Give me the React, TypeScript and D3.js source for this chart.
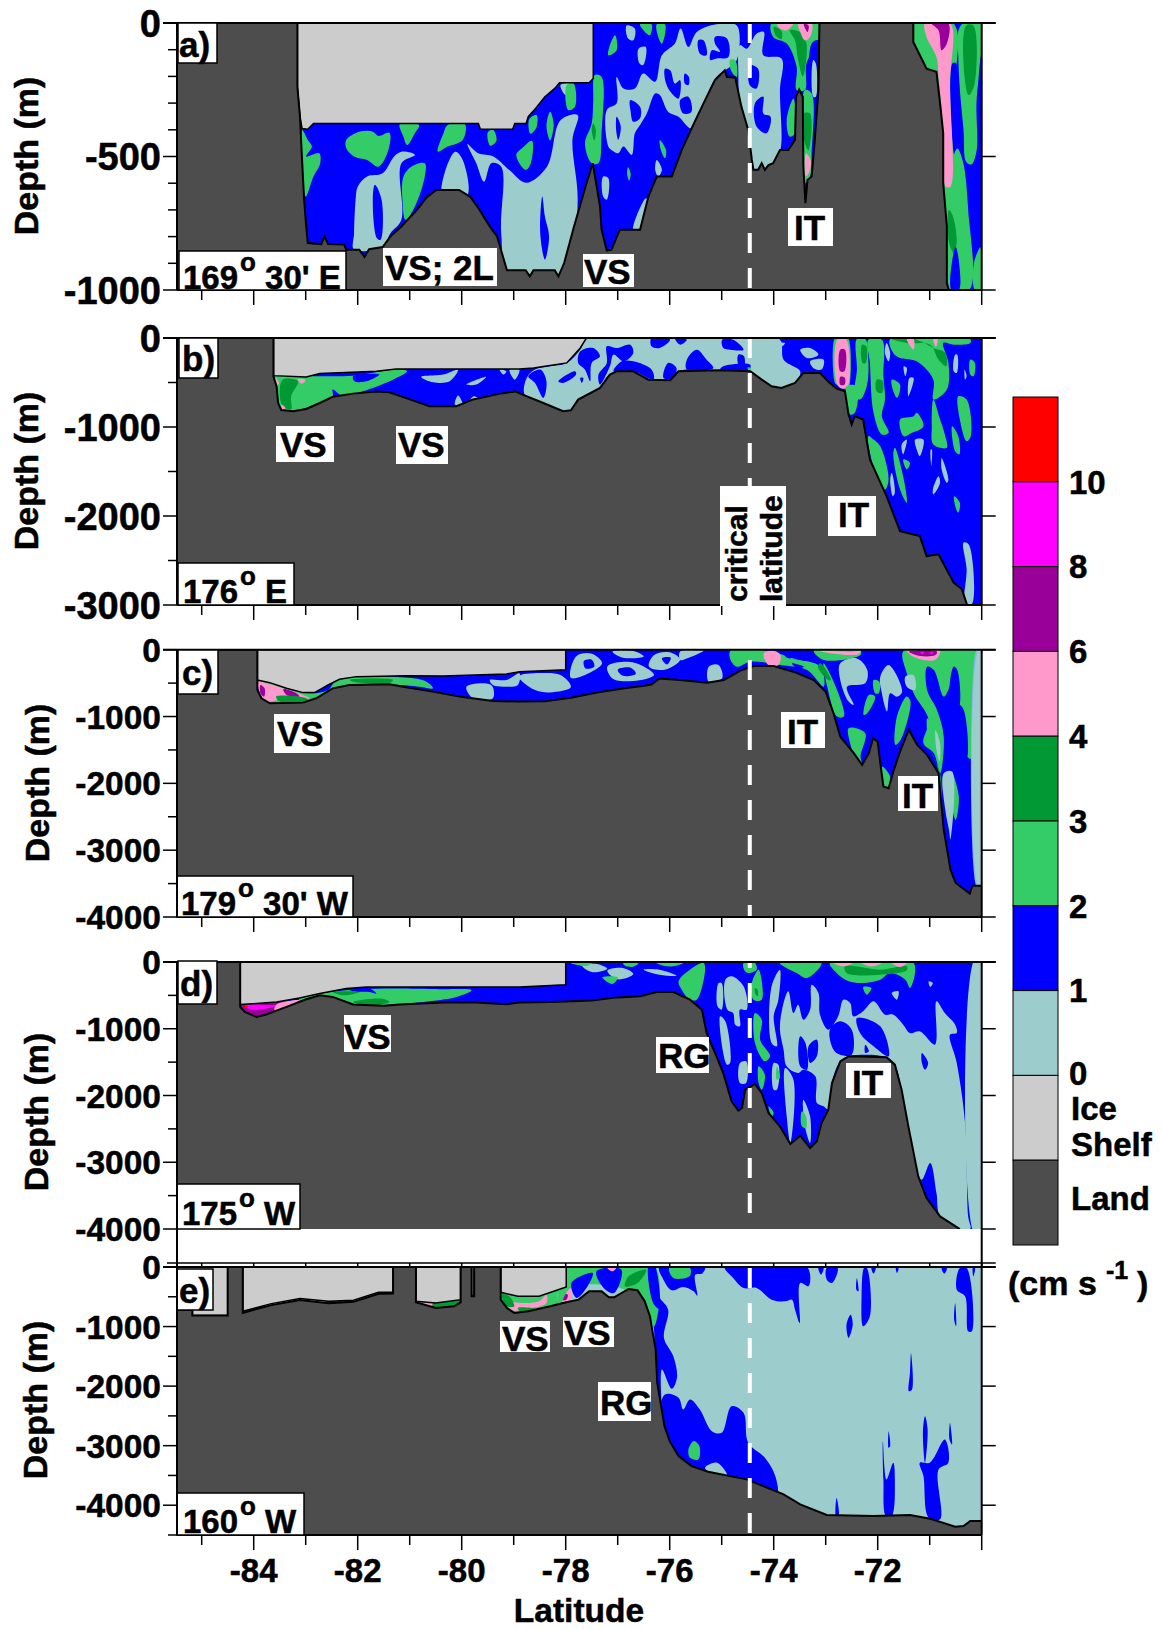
import React from "react";
import * as d3 from "d3";

const WIDTH = 1162, HEIGHT = 1630;
const COLORS: Record<string, string> = { t: "#9CCCCC", b: "#0000FF", g: "#33CC66", d: "#009933", p: "#FF99CC", u: "#990099", m: "#FF00FF", r: "#FF0000", pale: "#8FB4E8" };
const LEGEND_COLORS = ["#FF0000", "#FF00FF", "#990099", "#FF99CC", "#009933", "#33CC66", "#0000FF", "#9CCCCC", "#CCCCCC", "#4D4D4D"];
const LEGEND_NUMBERS = ["10", "8", "6", "4", "3", "2", "1", "0"];
const LAT_LABELS = [-84, -82, -80, -78, -76, -74, -72];
const LAT_TICKS = d3.range(-85, -69);
const CRITICAL_LAT = -74.46;

// bottom profiles, flat [lat, depth, ...]
const bottomA = [-85.47,0,-83.16,0,-83.16,239,-83.11,351,-83.07,513,-83.03,662,-82.99,762,-82.96,824,-82.7,828,-82.64,799,-82.57,828,-82.26,830,-82.22,849,-81.97,849,-81.87,876,-81.78,847,-81.52,839,-81.37,799,-81.16,762,-81.01,731,-80.86,700,-80.67,652,-80.49,625,-80.05,625,-79.83,652,-79.68,693,-79.46,762,-79.32,799,-79.13,926,-78.77,926,-78.69,949,-78.62,926,-78.21,926,-78.14,949,-78.03,899,-77.84,762,-77.62,613,-77.48,525,-77.34,687,-77.31,774,-77.21,852,-77.12,849,-76.96,774,-76.57,774,-76.41,650,-76.25,575,-75.96,575,-75.77,476,-75.58,395,-75.35,301,-75.13,214,-74.94,177,-74.9,202,-74.74,204,-74.62,314,-74.49,401,-74.42,513,-74.39,550,-74.3,550,-74.23,525,-74.17,550,-74.1,532,-74.01,525,-73.88,476,-73.72,476,-73.59,438,-73.57,276,-73.51,249,-73.44,276,-73.43,538,-73.39,675,-73.35,588,-73.27,575,-73.21,438,-73.14,251,-73.12,0,-71.315,0,-71.315,71,-71.06,171,-70.87,183,-70.8,301,-70.74,413,-70.74,600,-70.67,762,-70.67,974,-70.63,1000];
const bottomB = [-85.47,0,-83.62,0,-83.62,430,-83.56,545,-83.53,730,-83.47,810,-83.24,823,-82.99,797,-82.73,730,-82.48,660,-82.09,625,-81.64,600,-81.39,610,-81,690,-80.62,767,-80.1,767,-79.78,690,-79.26,625,-78.97,600,-78.78,647,-78.43,730,-78.05,823,-77.9,812,-77.76,692,-77.34,561,-77.15,411,-77.02,374,-76.7,374,-76.41,468,-75.99,475,-75.83,374,-75.03,363,-74.45,374,-74.23,468,-74.04,542,-73.85,561,-73.59,505,-73.43,393,-73.11,393,-72.92,505,-72.79,568,-72.63,598,-72.56,860,-72.5,972,-72.44,879,-72.28,916,-72.15,1365,-71.83,1777,-71.57,2169,-71.19,2225,-71.06,2450,-70.83,2431,-70.54,2749,-70.38,2824,-70.28,3000];
const bottomC = [-85.47,0,-83.93,0,-83.93,603,-83.85,727,-83.69,802,-83.05,792,-82.8,727,-82.48,578,-82.16,528,-81.39,518,-81.07,563,-80.56,627,-80.04,702,-79.4,767,-78.89,777,-78.4,770,-77.9,720,-77.4,640,-76.9,580,-76.5,540,-76.35,520,-76.2,430,-75.8,453,-75.28,493,-74.96,453,-74.64,314,-74.39,244,-74,244,-73.62,329,-73.23,453,-73,628,-72.85,951,-72.72,1300,-72.59,1424,-72.46,1549,-72.3,1723,-72.17,1549,-72.09,1325,-72,1375,-71.95,1698,-71.89,2047,-71.79,2072,-71.69,1798,-71.56,1499,-71.4,1200,-71.24,1424,-71.05,1574,-70.83,1848,-70.73,2694,-70.6,3292,-70.5,3491,-70.23,3650,-70.18,3531,-70,3531];
const bottomD = [-85.47,0,-84.26,0,-84.26,672,-84.17,747,-83.95,822,-83.76,787,-83.37,672,-82.99,558,-82.73,498,-82.48,523,-82.09,637,-81.5,657,-81.19,637,-80.36,608,-79.72,608,-79.14,632,-78.89,608,-78.3,600,-78,590,-77.5,575,-77,530,-76.57,514,-76.25,449,-75.93,449,-75.61,564,-75.38,714,-75.29,1064,-75.1,1413,-74.97,1663,-74.81,2087,-74.68,2227,-74.61,2187,-74.55,1913,-74.36,1828,-74.23,1963,-74.1,2262,-73.88,2462,-73.68,2727,-73.49,2602,-73.3,2787,-73.17,2687,-73.08,2412,-72.95,2212,-72.88,1813,-72.72,1488,-72.56,1413,-71.83,1428,-71.67,1538,-71.54,1913,-71.41,2462,-71.22,3211,-71.06,3536,-70.8,3811,-70.42,4000];
const bottomE = [-85.47,720,-85.18,720,-85.18,816,-84.5,816,-84.5,0,-84.21,0,-84.21,770,-83.66,640,-83.11,555,-82.56,610,-82.08,585,-81.6,450,-81.32,445,-81.32,0,-80.88,0,-80.88,590,-80.5,688,-80.15,660,-80.02,593,-80.02,0,-79.81,0,-79.81,492,-79.76,492,-79.76,0,-79.25,0,-79.25,548,-79.13,688,-78.99,771,-78.72,743,-78.3,660,-77.99,593,-77.75,548,-77.55,408,-77.31,408,-77.17,509,-77.07,509,-76.79,369,-76.62,391,-76.48,576,-76.38,827,-76.27,1386,-76.24,1945,-76.1,2672,-76,2924,-75.83,3175,-75.58,3343,-75.26,3438,-74.52,3566,-73.81,3818,-73.49,3986,-72.98,4165,-72.08,4181,-71.38,4165,-70.99,4226,-70.51,4360,-70.35,4350,-70.22,4265,-70,4265];

// ice shelves
const iceA = [[-83.16,0,-77.47,0,-77.47,208,-77.55,224,-78.12,224,-78.21,245,-78.4,276,-78.58,320,-78.72,351,-78.76,376,-78.98,376,-79.02,398,-79.64,398,-79.68,376,-82.85,376,-82.96,398,-83.07,395,-83.11,351,-83.16,239]];
const iceB = [[-83.62,0,-77.6,0,-77.72,112,-77.98,280,-78.4,318,-78.62,337,-78.89,348,-81.26,348,-81.64,374,-82.73,400,-82.99,438,-83.62,423]];
const iceC = [[-83.93,0,-78,0,-78,300,-78.89,329,-79.14,364,-80.36,393,-81.07,388,-82.03,403,-82.35,443,-82.57,528,-82.83,642,-83.05,642,-83.37,578,-83.69,493,-83.93,453]];
const iceD = [[-84.26,0,-78,0,-78,340,-78.89,374,-81.83,374,-82.22,398,-82.73,473,-83.12,538,-83.56,598,-83.95,622,-84.26,637]];
const iceE = [
  [-85.47,0,-84.5,0,-84.5,816,-85.18,816,-85.18,720,-85.47,720],
  [-84.21,0,-81.32,0,-81.32,425,-81.6,425,-82.08,559,-82.56,576,-83.11,531,-83.66,615,-84.21,743],
  [-80.88,0,-80.02,0,-80.02,548,-80.5,604,-80.88,576],
  [-79.81,0,-79.76,0,-79.76,480,-79.81,480],
  [-79.25,0,-77.99,0,-77.99,335,-78.51,492,-78.92,492,-79.25,425],
];

type Blob = [string, number[]];
const blobsA: Blob[] = [
  ["t",[-82,613,-81.82,575,-81.52,563,-81.3,500,-81.16,482,-80.9,494,-81.16,525,-81.16,737,-81.37,787,-81.52,837,-82.07,849,-82.07,787,-82.04,662]],
  ["t",[-80.12,482,-79.98,513,-79.9,650,-80.36,650,-80.31,550]],
  ["t",[-79.89,453,-79.68,488,-79.39,500,-79.09,550,-78.76,598,-78.36,538,-78.1,364,-77.77,345,-77.87,438,-77.77,662,-77.92,911,-78.21,949,-79.09,949,-79.24,787,-79.24,538,-79.43,525,-79.57,594,-79.72,525]],
  ["t",[-77.02,202,-76.89,245,-76.67,245,-76.51,189,-76.28,220,-76.15,121,-75.9,77,-75.79,21,-75.64,90,-75.48,34,-75.1,5,-74.71,9,-74.71,139,-74.84,164,-75.1,202,-75.35,301,-75.58,395,-75.83,351,-76.03,332,-76.19,270,-76.28,264,-76.44,339,-76.57,382,-76.67,413,-76.73,494,-76.89,463,-76.99,488,-77.12,476,-77.18,463,-77.21,326,-77.02,301]],
  ["t",[-74.65,83,-74.52,96,-74.33,40,-74.19,34,-74.2,121,-73.85,133,-73.88,251,-73.87,476,-74.01,532,-74.26,550,-74.42,550,-74.52,401,-74.65,301,-74.68,189]],
  ["t",[-76.83,9,-76.67,21,-76.7,65,-76.8,58]],
  ["t",[-76.6,96,-76.46,90,-76.51,158,-76.58,152]],
  ["t",[-77.28,575,-77.18,581,-77.21,662,-77.28,650]],
  ["t",[-76.25,513,-76.15,550,-76.22,575,-76.28,550]],
  ["t",[-76.7,774,-76.46,656,-76.43,662,-76.57,774]],
  ["t",[-78.1,232,-77.9,227,-78,270]],
  ["b",[-81.67,606,-81.54,662,-81.56,812,-81.63,806,-81.71,662]],
  ["b",[-78.45,650,-78.4,725,-78.32,799,-78.4,886,-78.49,787]],
  ["b",[-76.09,171,-75.99,177,-75.9,227,-75.8,214,-75.83,283,-75.96,264,-76.07,227]],
  ["b",[-75.71,189,-75.63,202,-75.64,233,-75.71,227]],
  ["b",[-75.8,289,-75.64,276,-75.58,332,-75.74,339]],
  ["b",[-75.45,65,-75.35,65,-75.29,121,-75.42,115]],
  ["b",[-75.13,52,-74.9,58,-74.87,127,-75.1,133,-75.22,139,-75.19,102,-75.03,108,-75.13,77]],
  ["b",[-76.76,289,-76.57,314,-76.57,357,-76.7,370,-76.75,332]],
  ["b",[-77.02,351,-76.94,388,-76.99,438,-77.03,401]],
  ["b",[-74.46,158,-74.3,171,-74.33,245,-74.46,233]],
  ["b",[-74.36,301,-74.2,276,-74.2,339,-74.06,351,-74.14,413,-74.33,388]],
  ["g",[-83.07,401,-82.96,438,-82.88,463,-82.99,500,-82.74,488,-82.72,525,-82.85,575,-83,650,-83.06,538]],
  ["g",[-82.22,438,-81.97,407,-81.71,407,-81.6,423,-81.39,411,-81.41,476,-81.6,538,-81.82,513,-82.07,500,-82.22,469]],
  ["g",[-81.19,378,-80.82,382,-80.9,413,-81.05,457,-81.12,426]],
  ["g",[-80.27,382,-79.94,378,-79.98,438,-80.27,463,-80.46,482,-80.35,413]],
  ["g",[-80.97,538,-80.71,525,-80.71,575,-80.9,687,-81.08,737,-81.14,662,-81.12,575]],
  ["g",[-79.5,410,-79.4,400,-79.33,440,-79.45,460]],
  ["g",[-78.65,441,-78.67,525,-78.77,550,-78.95,494,-78.84,469]],
  ["g",[-78.7,360,-78.56,345,-78.56,390,-78.68,415]],
  ["g",[-78.3,332,-78.23,380,-78.3,440,-78.37,385]],
  ["g",[-77.44,195,-77.31,202,-77.31,413,-77.37,525,-77.5,525,-77.63,451,-77.5,376,-77.47,289]],
  ["g",[-77.98,233,-77.85,227,-77.82,314,-77.95,326]],
  ["d",[-77.47,376,-77.42,400,-77.45,440,-77.5,400]],
  ["g",[-77.05,46,-77.02,102,-77.18,121,-77.15,83]],
  ["g",[-76.57,5,-76.35,5,-76.38,46,-76.44,40]],
  ["g",[-76.25,5,-76.09,5,-76.15,77,-76.22,52]],
  ["g",[-74.84,139,-74.74,139,-74.71,202,-74.81,183]],
  ["g",[-76.19,438,-76.07,476,-76.09,507,-76.17,476]],
  ["g",[-76.8,540,-76.75,565,-76.78,590,-76.82,565]],
  ["g",[-73.62,283,-73.59,413,-73.69,426,-73.75,364]],
  ["g",[-74.04,0,-73.14,0,-73.14,65,-73.37,152,-73.4,251,-73.56,251,-73.56,164,-73.75,77,-74.01,52]],
  ["d",[-73.69,27,-73.49,34,-73.37,77,-73.44,201,-73.53,139,-73.59,65]],
  ["d",[-74,15,-73.85,30,-73.85,60,-73.95,50]],
  ["p",[-73.94,0,-73.62,0,-73.75,27,-73.88,21]],
  ["p",[-73.53,0,-73.27,0,-73.3,52,-73.4,65,-73.49,34]],
  ["u",[-73.42,5,-73.33,9,-73.35,34]],
  ["b",[-73.27,77,-73.14,65,-73.14,251,-73.21,438,-73.27,488]],
  ["t",[-73.24,139,-73.19,152,-73.19,276,-73.24,276]],
  ["g",[-73.4,251,-73.27,264,-73.27,488,-73.3,575,-73.4,600,-73.43,476]],
  ["d",[-73.42,339,-73.3,339,-73.33,476,-73.4,451]],
  ["p",[-73.38,488,-73.29,513,-73.31,556,-73.38,575]],
  ["g",[-71.4,0,-70.55,0,-70.55,300,-70.6,1000,-70.75,1000,-71,200,-71.4,100]],
  ["g",[-70.35,0,-70.02,0,-70.05,180,-70.1,300,-70.1,480,-70.2,530,-70.3,520,-70.35,400,-70.42,250,-70.45,130,-70.45,30]],
  ["d",[-70.3,10,-70.16,10,-70.14,230,-70.25,270,-70.33,200]],
  ["b",[-70.56,150,-70.5,150,-70.48,400,-70.52,500,-70.58,400]],
  ["g",[-70.6,550,-70.47,470,-70.36,520,-70.26,700,-70.24,1000,-70.66,1000,-70.66,700]],
  ["d",[-70.63,700,-70.56,720,-70.48,820,-70.54,860,-70.63,820]],
  ["b",[-70.55,870,-70.5,840,-70.44,890,-70.44,1000,-70.58,1000]],
  ["g",[-70.15,900,-70.02,840,-70.02,1000,-70.13,1000]],
  ["p",[-71.09,0,-70.61,0,-70.61,227,-70.6,613,-70.69,613,-70.74,413,-70.83,202,-70.87,127,-71.06,52]],
  ["u",[-70.96,2,-70.64,2,-70.67,77,-70.77,102,-70.83,27]],
];
const blobsB: Blob[] = [
  ["g",[-83.6,430,-82.76,430,-82.09,423,-81.26,355,-81.05,374,-81.32,468,-81.9,598,-82.28,655,-82.48,580,-82.48,673,-82.73,722,-82.99,785,-83.37,823,-83.5,767]],
  ["b",[-82.09,430,-81.58,411,-81.83,486,-82.06,486]],
  ["d",[-83.44,468,-83.15,486,-83.28,655,-83.28,800,-83.44,767,-83.5,617]],
  ["p",[-83.15,460,-83,475,-83.08,512]],
  ["p",[-83.47,748,-83.39,785,-83.44,812]],
  ["p",[-83.6,437,-83.51,505,-83.58,542]],
  ["t",[-80.78,437,-80.36,411,-80.07,355,-80.23,486,-80.55,497]],
  ["t",[-79.91,523,-79.53,437,-79.72,523]],
  ["t",[-80.13,748,-80.07,647,-79.98,759]],
  ["t",[-79.84,711,-79.77,655,-79.65,692]],
  ["t",[-79.27,355,-79.14,374,-79.2,411]],
  ["t",[-79.08,355,-78.89,355,-78.98,468]],
  ["t",[-78.75,449,-78.59,355,-78.3,318,-77.98,280,-77.72,131,-77.58,0,-74.49,0,-74.26,168,-74.26,449,-75.03,363,-75.83,374,-75.99,475,-76.41,468,-77.15,411,-77.34,561,-77.9,812,-78.05,823,-78.78,647]],
  ["t",[-74.45,0,-73.88,19,-73.81,243,-73.49,374,-73.59,505,-73.85,561,-74.1,524,-74.45,355]],
  ["b",[-78.72,430,-78.49,355,-78.37,486,-78.43,673,-78.59,505]],
  ["b",[-78.14,486,-77.82,374,-77.8,411,-78.05,505]],
  ["b",[-77.72,449,-77.66,449,-77.69,505]],
  ["b",[-77.72,150,-77.47,112,-77.34,206,-77.5,280,-77.53,486,-77.63,355,-77.76,280]],
  ["b",[-77.21,94,-77.02,112,-76.76,75,-76.7,168,-76.89,262,-77.08,187,-77.15,318,-77.34,524,-77.37,411,-77.21,280]],
  ["b",[-76.7,262,-76.35,355,-76.31,468,-76.7,374,-77.08,374,-76.92,262]],
  ["b",[-76.35,0,-75.99,19,-76.19,112,-76.35,94]],
  ["b",[-75.9,0,-75.67,19,-75.8,75]],
  ["b",[-76.12,449,-76.03,280,-75.87,337,-75.93,449]],
  ["b",[-75.67,243,-75.48,131,-75.29,243,-75.16,337,-75.67,355]],
  ["b",[-74.99,19,-74.78,19,-74.58,131,-74.84,131,-74.97,112]],
  ["b",[-74.68,187,-74.57,206,-74.58,355,-74.68,300]],
  ["b",[-74.97,318,-74.45,300,-74.49,374,-75.03,355]],
  ["t",[-73.49,131,-73.3,112,-73.14,187,-73.36,224]],
  ["t",[-73.3,262,-73.04,243,-73.08,355,-73.24,337]],
  ["t",[-73.94,56,-73.78,56,-73.85,94]],
  ["g",[-74.5,330,-74.44,340,-74.47,385]],
  ["g",[-72.83,11,-72.77,11,-72.77,524,-72.82,505]],
  ["g",[-72.61,11,-72.56,11,-72.56,560,-72.61,560]],
  ["p",[-72.77,11,-72.61,11,-72.59,561,-72.76,542]],
  ["u",[-72.72,131,-72.63,131,-72.64,374,-72.72,374]],
  ["u",[-72.72,437,-72.63,449,-72.64,524,-72.72,524]],
  ["g",[-72.4,11,-72.24,11,-72.18,243,-72.21,542,-72.34,692,-72.44,655,-72.4,355]],
  ["g",[-72.6,542,-72.4,542,-72.44,841,-72.53,860]],
  ["g",[-72.18,19,-71.92,19,-71.89,430,-71.86,692,-71.92,879,-71.79,1066,-71.92,1085,-72.08,841,-72.15,281]],
  ["d",[-72.02,468,-71.9,486,-71.92,617,-72.02,598]],
  ["d",[-72.3,75,-72.22,94,-72.23,280,-72.29,280]],
  ["g",[-72.18,1103,-72.08,1141,-71.95,1216,-71.79,1590,-71.86,1702,-72.08,1440]],
  ["g",[-71.67,1234,-71.51,1552,-71.44,1851,-71.57,1702,-71.7,1309]],
  ["g",[-71.51,1365,-71.38,1403,-71.44,1477]],
  ["g",[-71.76,11,-70.22,11,-70.22,56,-70.54,75,-70.74,56,-70.64,280,-70.67,580,-70.93,692,-70.93,468,-71.25,262,-71.57,224,-71.7,168]],
  ["g",[-70.93,692,-70.8,916,-70.7,1103,-70.67,1234,-70.93,1197,-70.96,991]],
  ["g",[-71.57,916,-71.31,879,-71.25,841,-71.12,991,-71.34,1066,-71.5,1103]],
  ["g",[-70.45,655,-70.29,692,-70.21,1103,-70.29,1160,-70.42,916]],
  ["g",[-70.57,991,-70.45,1103,-70.43,1309,-70.51,1272]],
  ["g",[-70.22,243,-70.13,280,-70.16,430,-70.22,411]],
  ["g",[-71.73,468,-71.57,524,-71.63,673,-71.71,580]],
  ["g",[-70.53,1777,-70.42,1851,-70.45,1964,-70.51,1889]],
  ["d",[-71.73,11,-71.25,19,-70.93,112,-70.7,168,-70.68,318,-70.83,243,-70.99,75,-71.44,56]],
  ["p",[-71.44,11,-71.31,11,-71.31,131]],
  ["p",[-70.93,11,-70.85,11,-70.88,100]],
  ["t",[-71.5,318,-71.44,337,-71.47,430]],
  ["t",[-71.39,449,-71.31,449,-71.41,655]],
  ["t",[-71.28,1141,-71.12,1141,-71.19,1328,-71.25,1253]],
  ["t",[-70.77,1347,-70.64,1590,-70.67,1627,-70.77,1477]],
  ["t",[-70.83,1552,-70.8,1627,-70.93,1758,-70.94,1702]],
  ["t",[-71.73,1515,-71.67,1739,-71.71,1777,-71.76,1590]],
  ["t",[-71.54,1197,-71.44,1141,-71.51,1309]],
  ["t",[-70.98,1253,-70.96,1253,-70.97,1440]],
  ["t",[-70.35,2300,-70.25,2319,-70.19,2992,-70.32,2992,-70.29,2599]],
  ["t",[-70.51,187,-70.47,187,-70.48,393,-70.54,374]],
  ["t",[-70.33,355,-70.29,430,-70.32,468]],
  ["t",[-71.83,56,-71.76,168,-71.79,262,-71.86,168]],
];
const blobsC: Blob[] = [
  ["g",[-83.89,478,-82.96,652,-82.57,603,-82.41,463,-81.19,413,-80.68,478,-80.55,578,-80.81,553,-81.19,528,-82.22,553,-82.48,603,-82.8,727,-83.12,802,-83.63,802,-83.82,727]],
  ["p",[-83.92,478,-83.76,503,-83.37,593,-83.05,677,-82.92,727,-83.37,727,-83.76,777,-83.85,702]],
  ["u",[-83.87,528,-83.79,578,-83.8,702,-83.87,652]],
  ["u",[-83.43,593,-83.18,652,-83.12,702,-83.37,677]],
  ["d",[-83.57,702,-82.99,727,-82.96,762,-83.5,777]],
  ["d",[-82.15,453,-81.32,453,-81.38,493,-82.09,478]],
  ["t",[-79.91,553,-79.43,528,-79.4,727,-79.78,727]],
  ["t",[-79.46,453,-79.14,453,-78.89,354,-78.92,528,-79.2,553,-79.4,528]],
  ["t",[-78.9,400,-78.5,350,-78.1,380,-77.9,560,-78.3,640,-78.6,600]],
  ["t",[-77.8,100,-77.5,60,-77.3,200,-77.5,330,-77.9,420]],
  ["t",[-77.2,250,-76.8,180,-76.5,250,-76.3,380,-76.7,470,-77.1,430]],
  ["t",[-77.1,30,-76.7,20,-76.5,100,-76.9,120]],
  ["t",[-76.3,80,-76,40,-75.8,150,-76.1,300,-76.4,250]],
  ["b",[-77.65,170,-77.5,150,-77.45,250,-77.62,280]],
  ["b",[-77,300,-76.75,270,-76.65,360,-76.9,390]],
  ["b",[-76.15,130,-75.98,120,-76.05,220]],
  ["t",[-75.8,30,-75.35,15,-75.67,130,-75.8,154]],
  ["t",[-75.25,254,-75.06,229,-74.99,428,-75.25,478]],
  ["g",[-74.83,15,-74.13,15,-73.62,130,-73.1,254,-73.04,553,-73.36,304,-73.87,229,-74.45,179,-74.71,254,-74.83,154]],
  ["p",[-74.19,55,-74,15,-73.87,80,-73.91,229,-74.1,229]],
  ["g",[-73.23,15,-72.33,15,-72.33,80,-73.04,154]],
  ["p",[-73.13,15,-72.53,30,-72.33,15,-72.36,65,-72.78,65]],
  ["b",[-73.81,30,-73.62,55,-73.68,130,-73.77,105]],
  ["b",[-73.49,115,-73.3,130,-73.42,165]],
  ["b",[-73.65,204,-73.42,254,-73.55,279]],
  ["g",[-73.04,204,-72.78,603,-72.65,1001,-72.78,1001,-72.97,553]],
  ["d",[-73.1,204,-72.9,454,-72.95,454,-73.15,254]],
  ["g",[-72.56,1175,-72.24,1250,-72.33,1599,-72.3,1723,-72.46,1549,-72.53,1399]],
  ["g",[-71.92,1748,-71.76,1897,-71.79,2072,-71.89,2047]],
  ["g",[-71.5,15,-70.12,15,-70.1,702,-70.12,1599,-70.25,1623,-70.31,1399,-70.36,877,-70.5,752,-70.5,279,-70.64,603,-70.73,702,-70.92,304,-71.05,254,-71.05,603,-70.86,901,-70.73,1300,-70.8,1848,-70.92,1549,-71.12,1399,-71.02,1051,-71.31,652,-71.44,354]],
  ["d",[-71.02,1424,-70.83,1823,-70.76,2495,-70.8,1848,-70.92,1624]],
  ["g",[-70.57,1848,-70.44,2196,-70.5,2545,-70.6,2196]],
  ["t",[-70.73,1848,-70.57,1823,-70.6,2844,-70.63,2694,-70.7,2395]],
  ["b",[-70.54,254,-70.47,304,-70.44,852,-70.6,752]],
  ["b",[-70.42,877,-70.35,901,-70.28,1599,-70.38,1499]],
  ["pale",[-70.1,0,-70.05,0,-70.05,3540,-70.1,3540]],
  ["t",[-70.06,0,-69.98,0,-69.98,3540,-70.06,3540]],
  ["p",[-71.44,15,-70.8,15,-70.86,130,-70.99,164,-71.31,105]],
  ["u",[-71.4,30,-70.86,30,-70.89,80,-71.18,95]],
  ["m",[-71.18,35,-71.1,40,-71.15,70]],
  ["m",[-71,40,-70.92,40,-70.97,70]],
  ["t",[-72.72,204,-72.4,130,-72.2,304,-72.24,503,-72.59,553,-72.46,827,-72.56,777,-72.72,453]],
  ["t",[-71.95,403,-71.79,229,-71.53,628,-71.63,702,-71.76,652,-71.82,926,-71.92,652]],
  ["t",[-71.47,403,-71.31,378,-71.28,603,-71.44,553]],
  ["g",[-72.17,677,-72.05,702,-72.2,951,-72.27,976]],
  ["g",[-72.08,453,-71.97,478,-71.98,652,-72.05,652]],
  ["g",[-71.63,1001,-71.44,702,-71.37,777,-71.56,1350,-71.66,1424]],
  ["g",[-71.05,1026,-70.95,1150,-71.02,1350]],
  ["t",[-70.89,1200,-70.8,1399,-70.81,1673,-70.87,1499]],
];
const blobsD: Blob[] = [
  ["t",[-77.7,40,-77.4,30,-77.2,100,-77.5,150]],
  ["t",[-77.2,130,-76.9,90,-76.7,180,-77,260]],
  ["g",[-77.9,20,-77.5,15,-77.6,60]],
  ["g",[-76.9,20,-76.6,20,-76.7,70,-76.85,60]],
  ["g",[-77.3,230,-77,230,-77.1,330]],
  ["u",[-84.24,647,-83.18,598,-83.56,722,-83.92,807,-84.14,747]],
  ["m",[-84.17,647,-83.63,647,-83.37,622,-83.76,697,-84.08,707]],
  ["r",[-84.19,657,-84.11,657,-84.15,697]],
  ["p",[-83.56,637,-83.12,573,-83.25,637,-83.6,722]],
  ["g",[-83.12,548,-82.73,473,-82.22,423,-81.45,398,-80.42,408,-79.81,423,-80.1,523,-80.74,598,-81.32,637,-81.96,647,-82.28,573,-82.73,498,-83.12,598]],
  ["d",[-82.09,598,-81.55,548,-81.39,598,-81.71,647]],
  ["d",[-82.48,448,-81.96,448,-82.28,498]],
  ["b",[-82.22,398,-81.77,398,-81.64,473,-81.77,448,-82.09,438]],
  ["g",[-76.25,15,-75.74,15,-75.93,65,-76.12,55]],
  ["g",[-75.83,290,-75.61,115,-75.35,15,-75.32,115,-75.48,564,-75.61,564,-75.77,415]],
  ["t",[-76.5,115,-76.2,115,-75.87,205,-76.2,190]],
  ["t",[-74.93,265,-74.81,215,-74.58,365,-74.52,714,-74.65,714,-74.65,964,-74.74,939,-74.78,764,-74.89,714]],
  ["t",[-75.06,315,-75,315,-75,714,-75.08,664]],
  ["t",[-74.65,1513,-74.53,1488,-74.53,1813,-74.65,1813]],
  ["t",[-75.03,814,-74.93,889,-74.84,1513,-74.9,1538]],
  ["t",[-74.04,365,-73.88,115,-73.91,564,-74,814,-73.94,1264,-74.04,1214]],
  ["t",[-73.84,714,-73.72,439,-73.62,764,-73.53,639,-73.43,864,-73.3,714,-73.27,340,-73.14,464,-73.11,789,-72.95,1014,-72.76,814,-72.66,564,-72.53,614,-72.47,814,-72.28,739,-72.08,589,-71.86,789,-71.7,789,-71.51,939,-71.38,1064,-71.19,1039,-70.9,1238,-70.87,589,-70.71,764,-70.51,939,-70.48,1064,-70.61,1089,-70.48,1513,-70.32,2412,-70.26,3811,-70.22,4000,-70.42,4020,-70.8,3811,-70.87,3461,-70.99,3011,-71.15,3261,-71.22,3211,-71.41,2462,-71.54,1913,-71.67,1538,-71.83,1428,-72.56,1413,-72.72,1488,-72.85,1713,-72.95,2212,-73.04,2162,-73.17,2112,-73.2,1713,-73.43,1613,-73.53,1663,-73.75,1563,-73.81,1313,-73.88,1014]],
  ["b",[-73.33,1264,-73.17,1164,-73.17,1413,-73.3,1513]],
  ["b",[-73.49,1114,-73.39,1214,-73.36,1613,-73.49,1563]],
  ["b",[-72.92,1014,-72.72,889,-72.5,1014,-72.5,1388,-72.72,1388,-72.85,1313]],
  ["b",[-72.4,839,-71.95,964,-71.79,1413,-72.08,1263,-72.34,1064]],
  ["b",[-71.15,1363,-71.03,1513,-71.09,1613,-71.15,1513]],
  ["b",[-72.24,1238,-72.17,1338,-72.24,1363]],
  ["t",[-73.78,1588,-73.62,1763,-73.68,2712,-73.75,2312]],
  ["t",[-74,1513,-73.91,1538,-73.94,1913,-74,1913]],
  ["t",[-73.43,2062,-73.3,2312,-73.3,2712,-73.4,2462]],
  ["g",[-74.36,764,-74.23,864,-74.26,1164,-74.07,1413,-74.17,1488,-74.36,1214]],
  ["g",[-74.29,1563,-74.17,1688,-74.23,1913,-74.29,1813]],
  ["g",[-73.94,1563,-73.88,1738,-73.94,1763]],
  ["g",[-73.46,2237,-73.38,2312,-73.38,2487,-73.46,2462]],
  ["g",[-74.1,2162,-74,2262,-74.04,2312]],
  ["g",[-74.42,315,-74.29,115,-74.23,564,-74.39,564]],
  ["d",[-74.36,390,-74.31,415,-74.31,514,-74.36,464]],
  ["g",[-74.58,15,-74.36,15,-74.33,115,-74.49,165,-74.57,115]],
  ["g",[-72.92,15,-71.31,15,-71.38,390,-71.47,265,-71.76,165,-71.95,265,-72.28,315,-72.56,290,-72.79,165]],
  ["g",[-73.88,15,-73.08,15,-73.36,240,-73.56,165]],
  ["g",[-72.28,375,-72.12,390,-72.21,489]],
  ["d",[-72.63,65,-71.95,115,-71.44,65,-71.44,125,-71.95,190,-72.6,165]],
  ["p",[-72.85,15,-72.47,15,-72.66,65]],
  ["p",[-72.31,15,-71.92,15,-72.12,65]],
  ["p",[-71.73,15,-71.44,15,-71.57,75]],
  ["t",[-71.73,465,-71.6,440,-71.63,564]],
  ["t",[-71.02,290,-70.94,315,-70.99,375]],
  ["t",[-70.13,-50,-69.98,-50,-69.98,4100,-70.13,4100]],
];
const blobsE: Blob[] = [
  ["b",[-76.2,0,-75.32,0,-75.38,112,-75.51,129,-75.47,481,-75.54,408,-75.74,335,-75.96,391,-76.12,212]],
  ["g",[-76.01,17,-75.61,17,-75.62,157,-75.93,184]],
  ["b",[-76.57,0,-76.38,0,-76.3,324,-76.19,520,-76.03,716,-76.11,1191,-75.93,1498,-75.86,1861,-75.96,2046,-76.15,1722,-76.15,2560,-76.28,1610,-76.31,995,-76.44,548]],
  ["g",[-76.57,0,-76.36,0,-76.33,400,-76.4,700,-76.5,300,-76.57,150]],
  ["d",[-76.57,10,-76.42,10,-76.5,170]],
  ["b",[-76.09,2141,-75.83,2197,-75.74,2393,-75.61,2225,-75.42,2393,-75.19,2756,-75,2784,-74.81,2337,-74.58,2448,-74.49,2952,-74.17,3203,-73.97,3511,-73.94,3818,-74.46,3622,-75.26,3455,-75.58,3343,-75.93,3063,-76.19,2504]],
  ["g",[-75.54,2924,-75.43,3007,-75.45,3231,-75.61,3203,-75.64,3063]],
  ["t",[-75.32,3371,-75.09,3287,-74.89,3511,-75.22,3455]],
  ["b",[-74.94,0,-73.36,0,-73.33,324,-73.49,268,-73.5,939,-73.59,716,-73.65,548,-73.78,576,-74.04,548,-74.33,352,-74.58,352,-74.78,184]],
  ["b",[-73.14,17,-73.04,17,-73.09,129]],
  ["b",[-72.98,17,-72.77,17,-72.88,268,-72.98,212]],
  ["b",[-72.4,184,-72.37,408,-72.41,380]],
  ["b",[-72.26,17,-72.21,17,-72.15,827,-72.28,995,-72.31,492]],
  ["b",[-72.12,17,-72.04,17,-72.08,112]],
  ["b",[-72.52,800,-72.48,967,-72.56,1191,-72.6,967]],
  ["b",[-71.65,17,-71.6,17,-71.63,100]],
  ["b",[-70.77,17,-70.67,17,-70.72,112]],
  ["b",[-70.42,17,-70.29,17,-70.19,1079,-70.26,1079,-70.32,492,-70.48,380]],
  ["b",[-70.17,17,-70.13,17,-70.16,157]],
  ["b",[-70.51,604,-70.49,995,-70.53,880]],
  ["b",[-71.36,1442,-71.34,2057,-71.4,2085,-71.38,1778]],
  ["b",[-71.09,2504,-71.04,2728,-71.09,3287,-71.13,2756]],
  ["b",[-71.19,3287,-71,3287,-70.71,2896,-70.64,3287,-70.83,3399,-70.8,4237,-71.02,4209,-71.12,3511]],
  ["b",[-70.61,2616,-70.57,2980,-70.62,2896]],
  ["b",[-71.9,2924,-71.83,3566,-71.7,3287,-71.67,3566,-71.73,4181,-71.84,4181,-71.89,3566]],
  ["b",[-71.79,2756,-71.76,3007,-71.79,3035]],
  ["b",[-72.79,3874,-72.75,4181,-72.8,4181]],
  ["u",[-84.2,740,-83.8,650,-83.8,690,-84.2,790]],
  ["u",[-82.6,545,-82.1,545,-82.1,590,-82.35,610,-82.6,590]],
  ["d",[-80.6,560,-80,540,-80,700,-80.6,720]],
  ["p",[-80.75,580,-80.56,600,-80.6,680,-80.75,660]],
  ["g",[-79.3,400,-77.95,300,-77.95,620,-79.3,800]],
  ["p",[-79.13,548,-78.99,593,-78.51,576,-78.37,464,-78.37,604,-78.64,688,-79.06,716]],
  ["p",[-78.16,408,-77.92,335,-77.89,548,-78.1,576]],
  ["u",[-78.1,464,-77.96,464,-77.99,548,-78.09,548]],
  ["d",[-79.23,464,-79.09,492,-78.99,660,-79.13,660]],
  ["d",[-78.92,688,-78.58,704,-78.85,760]],
  ["g",[-78.1,-40,-76.3,-40,-76.3,1000,-76.5,600,-77,340,-77.9,350,-78.1,600]],
  ["b",[-77.89,268,-77.48,101,-77.58,324,-77.79,520]],
  ["b",[-77.41,73,-76.93,45,-77.07,436,-77.27,352]],
  ["d",[-76.79,157,-76.45,45,-76.62,268,-76.86,324]],
  ["p",[-77.2,17,-77.03,17,-77.1,73]],
  ["b",[-76.4,-40,-76.3,-40,-76.2,700,-76.32,600]],
];

const depthTicksA = d3.range(0, 1001, 100);
const depthTicksB = d3.range(0, 3001, 500);
const depthTicksC = d3.range(0, 4001, 500);
const depthTicksE = d3.range(0, 4501, 500);

interface Box { x: number; y: number; w: number; h: number; border?: boolean; text?: string; tx?: number; ty?: number; size?: number; deg?: [string, string]; }
interface Panel { key: string; top: number; bottom: number; max: number; ticks: number[]; major: number[]; base: string; bottom_: number[]; ice: number[][]; blobs: Blob[]; tickSize: number; depthX: number; depthY: number; boxes: Box[]; dashStart: number; dashEnd: number; dashOffset: number; xAxis: boolean; }

const PANELS: Panel[] = [
  { key: "a", top: 23, bottom: 290, max: 1000, ticks: depthTicksA, major: [0, 500, 1000], base: "b", bottom_: bottomA, ice: iceA, blobs: blobsA, tickSize: 38, depthX: 38, depthY: 156, dashStart: 23, dashEnd: 290, dashOffset: 0, xAxis: true,
    boxes: [
      { x: 178, y: 23, w: 39, h: 40, border: true, text: "a)", tx: 179, ty: 57, size: 35 },
      { x: 179, y: 251, w: 167, h: 39, border: true, tx: 183, ty: 289, size: 33, deg: ["169", "\u00A030' E"] },
      { x: 383, y: 248, w: 114, h: 38, text: "VS; 2L", tx: 385, ty: 280, size: 35 },
      { x: 583, y: 254, w: 51, h: 33, text: "VS", tx: 584, ty: 284, size: 35 },
      { x: 788, y: 208, w: 45, h: 38, text: "IT", tx: 794, ty: 240, size: 35 },
    ] },
  { key: "b", top: 338, bottom: 605, max: 3000, ticks: depthTicksB, major: [0, 1000, 2000, 3000], base: "b", bottom_: bottomB, ice: iceB, blobs: blobsB, tickSize: 38, depthX: 38, depthY: 471, dashStart: 338, dashEnd: 486, dashOffset: 0, xAxis: true,
    boxes: [
      { x: 179, y: 338, w: 39, h: 40, border: true, text: "b)", tx: 182, ty: 371, size: 35 },
      { x: 178, y: 563, w: 116, h: 42, border: true, tx: 183, ty: 603, size: 33, deg: ["176", "\u00A0E"] },
      { x: 276, y: 426, w: 58, h: 36, text: "VS", tx: 280, ty: 457, size: 35 },
      { x: 396, y: 426, w: 52, h: 38, text: "VS", tx: 398, ty: 457, size: 35 },
      { x: 828, y: 496, w: 48, h: 40, text: "IT", tx: 838, ty: 527, size: 35 },
    ] },
  { key: "c", top: 649.7, bottom: 917, max: 4000, ticks: depthTicksC, major: [0, 1000, 2000, 3000, 4000], base: "b", bottom_: bottomC, ice: iceC, blobs: blobsC, tickSize: 33.5, depthX: 49, depthY: 783, dashStart: 660, dashEnd: 917, dashOffset: 0, xAxis: true,
    boxes: [
      { x: 178, y: 650, w: 40, h: 44, border: true, text: "c)", tx: 182, ty: 685, size: 35 },
      { x: 177, y: 876, w: 176, h: 41, border: true, tx: 181, ty: 915, size: 33, deg: ["179", "\u00A030' W"] },
      { x: 274, y: 714, w: 56, h: 39, text: "VS", tx: 277, ty: 746, size: 35 },
      { x: 781, y: 712, w: 44, h: 36, text: "IT", tx: 787, ty: 744, size: 35 },
      { x: 898, y: 776, w: 40, h: 35, text: "IT", tx: 902, ty: 808, size: 35 },
    ] },
  { key: "d", top: 962, bottom: 1229, max: 4000, ticks: depthTicksC, major: [0, 1000, 2000, 3000, 4000], base: "b", bottom_: bottomD, ice: iceD, blobs: blobsD, tickSize: 33.5, depthX: 48, depthY: 1112, dashStart: 962, dashEnd: 1217, dashOffset: 14, xAxis: false,
    boxes: [
      { x: 178, y: 961, w: 39, h: 43, border: true, text: "d)", tx: 180, ty: 996, size: 35 },
      { x: 177, y: 1184, w: 123, h: 45, border: true, tx: 182, ty: 1225, size: 33, deg: ["175", "\u00A0W"] },
      { x: 344, y: 1015, w: 47, h: 37, text: "VS", tx: 344, ty: 1049, size: 35 },
      { x: 656, y: 1037, w: 53, h: 36, text: "RG", tx: 658, ty: 1068, size: 35 },
      { x: 846, y: 1063, w: 45, h: 35, text: "IT", tx: 852, ty: 1095, size: 35 },
    ] },
  { key: "e", top: 1267, bottom: 1535, max: 4500, ticks: depthTicksE, major: [0, 1000, 2000, 3000, 4000], base: "t", bottom_: bottomE, ice: iceE, blobs: blobsE, tickSize: 33.5, depthX: 47, depthY: 1400, dashStart: 1268, dashEnd: 1535, dashOffset: 0, xAxis: true,
    boxes: [
      { x: 177, y: 1269, w: 36, h: 41, border: true, text: "e)", tx: 179, ty: 1303, size: 35 },
      { x: 177, y: 1493, w: 127, h: 42, border: true, tx: 183, ty: 1533, size: 33, deg: ["160", "\u00A0W"] },
      { x: 500, y: 1321, w: 50, h: 31, text: "VS", tx: 502, ty: 1351, size: 35 },
      { x: 563, y: 1317, w: 51, h: 30, text: "VS", tx: 564, ty: 1345, size: 35 },
      { x: 598, y: 1382, w: 53, h: 39, text: "RG", tx: 600, ty: 1415, size: 35 },
    ] },
];

const x = d3.scaleLinear().domain([-76, -74]).range([669.7, 773.7]);
const LEFT = x(-85.475), RIGHT = x(-70);
const FONT = "'Liberation Sans', Arial, sans-serif";
const TEXT = { fontFamily: FONT, fontWeight: 700, fill: "#000", stroke: "#000", strokeWidth: 0.5 } as const;

const pairs = (f: number[]): [number, number][] => {
  const out: [number, number][] = [];
  for (let i = 0; i + 1 < f.length; i += 2) out.push([f[i], f[i + 1]]);
  return out;
};

function PanelView({ p }: { p: Panel }) {
  const y = d3.scaleLinear().domain([0, p.max]).range([p.top, p.bottom]);
  const smooth = d3.line<[number, number]>().x(d => x(d[0])).y(d => y(d[1])).curve(d3.curveCatmullRomClosed.alpha(0.5));
  const straight = d3.line<[number, number]>().x(d => x(d[0])).y(d => y(d[1]));
  const prof = pairs(p.bottom_);
  const last = prof[prof.length - 1];
  const landPts: [number, number][] = [[prof[0][0], p.max], ...prof, [last[0], p.max], [-70, p.max]];
  return (
    <g>
      <clipPath id={"clip-" + p.key}><rect x={LEFT} y={p.top} width={RIGHT - LEFT} height={p.bottom - p.top} /></clipPath>
      <g clipPath={`url(#clip-${p.key})`}>
        <rect x={LEFT} y={p.top} width={RIGHT - LEFT} height={p.bottom - p.top} fill={COLORS[p.base]} />
        {p.blobs.map((b, i) => <path key={i} d={smooth(pairs(b[1])) + "Z"} fill={COLORS[b[0]]} />)}
        {p.ice.map((s, i) => <path key={i} d={straight(pairs(s)) + "Z"} fill="#CCCCCC" stroke="#000" strokeWidth={1.5} />)}
        <path d={straight(landPts) + "Z"} fill="#4D4D4D" />
        <path d={straight(prof) || ""} fill="none" stroke="#000" strokeWidth={2} />
      </g>
      <line x1={x(CRITICAL_LAT)} x2={x(CRITICAL_LAT)} y1={p.dashStart} y2={p.dashEnd} stroke="#fff" strokeWidth={4} strokeDasharray="20 15" strokeDashoffset={p.dashOffset} />
      {p.ticks.map(t => {
        const major = p.major.includes(t);
        return <line key={t} x1={LEFT - (major ? 14 : 9)} x2={LEFT} y1={y(t)} y2={y(t)} stroke="#000" strokeWidth={1.5} />;
      })}
      {p.major.map(t => <line key={t} x1={RIGHT} x2={RIGHT + 14} y1={y(t)} y2={y(t)} stroke="#000" strokeWidth={1.5} />)}
      {p.major.map(t => (
        <text key={t} x={161} y={y(t)} dy="0.36em" textAnchor="end" fontSize={p.tickSize} {...TEXT}>{t === 0 ? "0" : "-" + t}</text>
      ))}
      <line x1={LEFT - 14} x2={RIGHT + 14} y1={p.top} y2={p.top} stroke="#000" strokeWidth={2} />
      {p.xAxis && <line x1={LEFT} x2={RIGHT} y1={p.bottom} y2={p.bottom} stroke="#000" strokeWidth={2} />}
      {p.xAxis && LAT_TICKS.map(t => (
        <line key={t} x1={x(t)} x2={x(t)} y1={p.bottom} y2={p.bottom + (t % 2 === 0 ? 15 : 10)} stroke="#000" strokeWidth={1.5} />
      ))}
      <text transform={`translate(${p.depthX},${p.depthY}) rotate(-90)`} textAnchor="middle" fontSize={34} {...TEXT}>Depth (m)</text>
      {p.boxes.map((b, i) => (
        <g key={i}>
          <rect x={b.x} y={b.y} width={b.w} height={b.h} fill="#fff" stroke={b.border ? "#000" : "none"} strokeWidth={1.5} />
          {b.text && <text x={b.tx} y={b.ty} fontSize={b.size} {...TEXT}>{b.text}</text>}
          {b.deg && (
            <text x={b.tx} y={b.ty} fontSize={b.size} {...TEXT}>
              <tspan>{b.deg[0]}</tspan>
              <tspan dy={-18} fontSize={26} dx={2}>o</tspan>
              <tspan dy={18}>{b.deg[1]}</tspan>
            </text>
          )}
        </g>
      ))}
    </g>
  );
}

const band = d3.scaleLinear().domain([0, LEGEND_COLORS.length]).range([397, 1245]);

export default function App() {
  return (
    <svg width={WIDTH} height={HEIGHT} style={{ position: "absolute", left: 0, top: 0, display: "block", background: "#fff" }}>
      {PANELS.map(p => <PanelView key={p.key} p={p} />)}
      {PANELS.map((p, i) => (
        <g key={p.key}>
          <line x1={LEFT} x2={LEFT} y1={p.top} y2={i === 3 ? PANELS[4].top : p.bottom} stroke="#000" strokeWidth={2} />
          <line x1={RIGHT} x2={RIGHT} y1={p.top} y2={i === 3 ? PANELS[4].top : p.bottom} stroke="#000" strokeWidth={2} />
        </g>
      ))}
      <line x1={LEFT - 10} x2={RIGHT + 14} y1={1263} y2={1263} stroke="#000" strokeWidth={1.5} />
      {LAT_TICKS.map(t => <line key={t} x1={x(t)} x2={x(t)} y1={1263} y2={1267} stroke="#000" strokeWidth={1.5} />)}
      {LAT_LABELS.map(l => (
        <text key={l} x={x(l)} y={1582} textAnchor="middle" fontSize={33} {...TEXT}>{l}</text>
      ))}
      <text x={579} y={1622} textAnchor="middle" fontSize={33.5} {...TEXT}>Latitude</text>
      {/* critical latitude annotation */}
      <rect x={720} y={486} width={66} height={120} fill="#fff" />
      <text transform="translate(747,602) rotate(-90)" fontSize={30} {...TEXT}>critical</text>
      <text transform="translate(782,602) rotate(-90)" fontSize={30} {...TEXT}>latitude</text>
      {/* legend */}
      {LEGEND_COLORS.map((c, i) => (
        <rect key={c} x={1013} y={band(i)} width={45} height={band(i + 1) - band(i)} fill={c} stroke="#000" strokeWidth={1} />
      ))}
      {LEGEND_NUMBERS.map((n, i) => (
        <text key={n} x={1069} y={band(i + 1) - (n === "0" ? 2 : 0)} dy="0.36em" fontSize={33} {...TEXT}>{n}</text>
      ))}
      <text x={1071} y={1120} fontSize={33} {...TEXT}>Ice</text>
      <text x={1071} y={1156} fontSize={33} {...TEXT}>Shelf</text>
      <text x={1071} y={1210} fontSize={33} {...TEXT}>Land</text>
      <text x={1008} y={1295} fontSize={34} {...TEXT}>(cm s</text>
      <text x={1106} y={1279} fontSize={25} {...TEXT}>-1</text>
      <text x={1137} y={1295} fontSize={34} {...TEXT}>)</text>
    </svg>
  );
}
